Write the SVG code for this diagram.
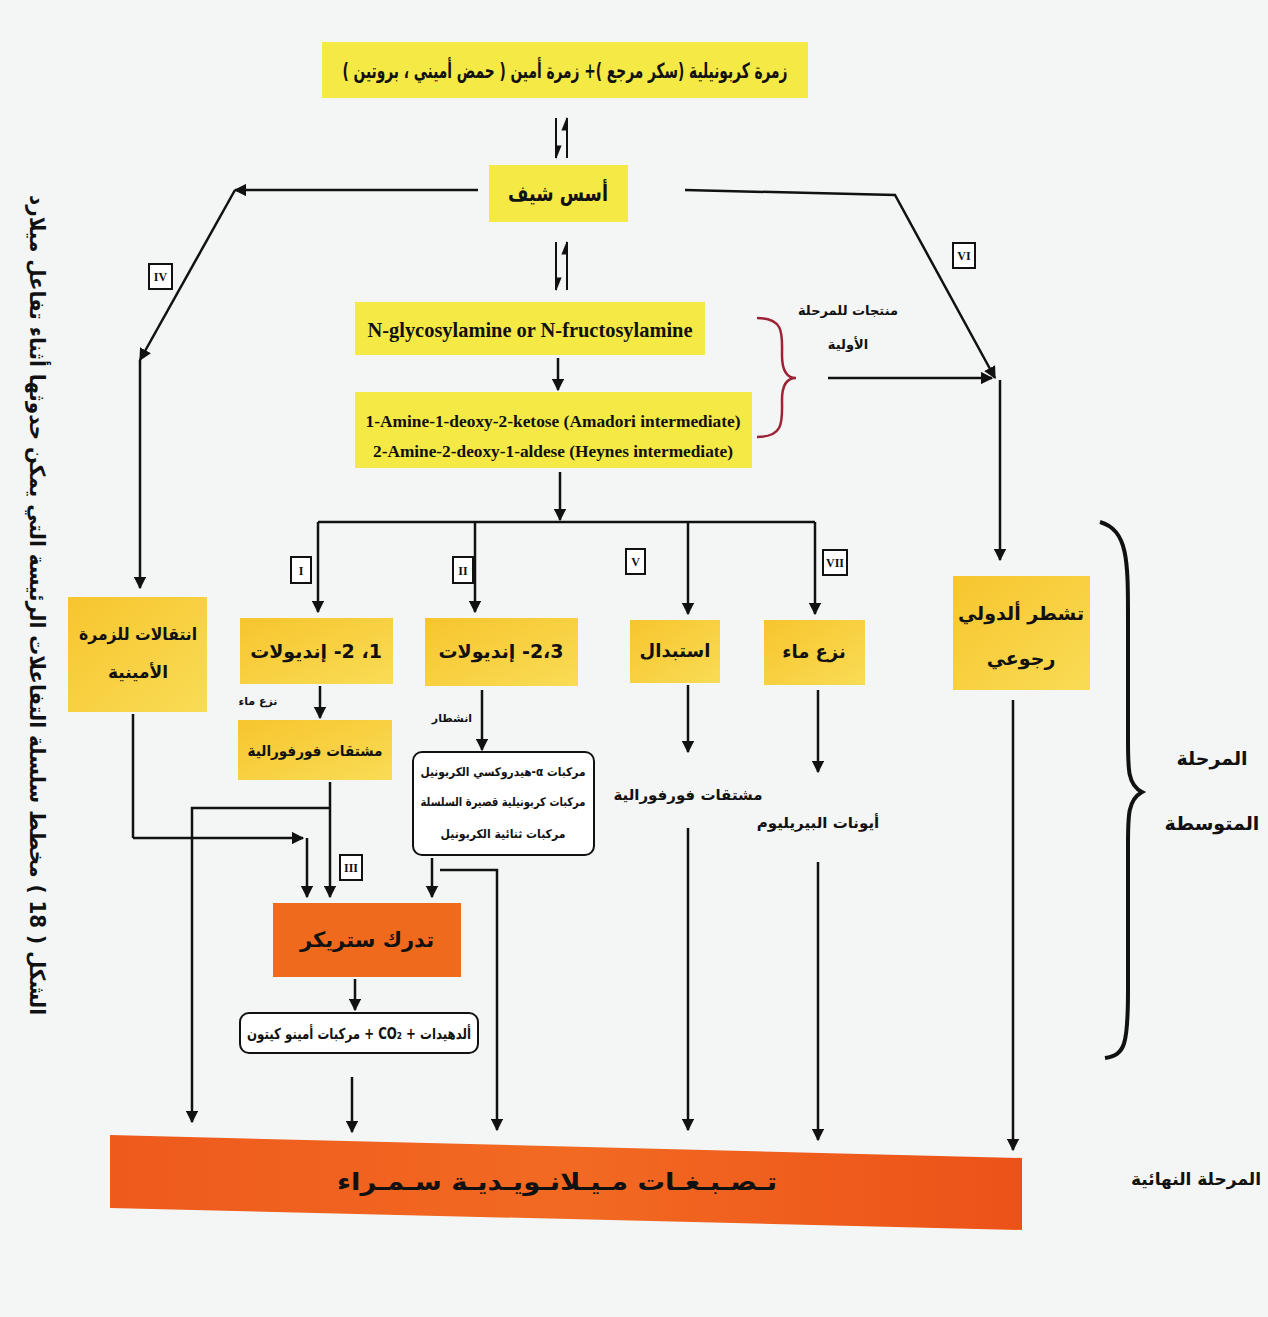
<svg xmlns="http://www.w3.org/2000/svg" width="1268" height="1317" viewBox="0 0 1268 1317">
<defs>
<style>
.ar{font-family:"DejaVu Sans",sans-serif;font-weight:bold;fill:#111;text-anchor:middle;direction:rtl}
.en{font-family:"Liberation Serif",serif;font-weight:bold;fill:#111;text-anchor:middle}
.ln{fill:none;stroke:#111;stroke-width:2.5}
.eq{fill:none;stroke:#111;stroke-width:2}
.yb{fill:#f5e945}
.ob{fill:url(#gy)}
.rn{fill:#fff;stroke:#111;stroke-width:2}
.rt{font-family:"Liberation Serif",serif;font-weight:bold;font-size:12px;fill:#111;text-anchor:middle}
.rb{fill:#fff;stroke:#111;stroke-width:2}
</style>
<linearGradient id="gy" x1="0" y1="0" x2="1" y2="1">
<stop offset="0" stop-color="#f7c52e"/><stop offset="1" stop-color="#f9dc55"/>
</linearGradient>
<linearGradient id="go" x1="0" y1="0" x2="1" y2="0">
<stop offset="0" stop-color="#ee5a1c"/><stop offset="0.5" stop-color="#f26a22"/><stop offset="1" stop-color="#ec5218"/>
</linearGradient>
<marker id="ah" viewBox="0 0 10 10" refX="9" refY="5" markerWidth="5" markerHeight="5" orient="auto" markerUnits="strokeWidth">
<path d="M0,0 L10,5 L0,10 z" fill="#111"/>
</marker>
<marker id="hh" viewBox="0 0 10 10" refX="9" refY="5" markerWidth="7" markerHeight="7" orient="auto" markerUnits="strokeWidth">
<path d="M0,1 L10,5 L0,5 z" fill="#111"/>
</marker>
</defs>
<rect width="1268" height="1317" fill="#f4f6f6"/>

<text class="ar" font-size="21" transform="translate(30,605) rotate(90)" textLength="820" lengthAdjust="spacingAndGlyphs">الشكل ( 18 ) مخطط سلسلة التفاعلات الرئيسة التي يمكن حدوثها أثناء تفاعل ميلارد</text>

<g id="top">
<rect class="yb" x="322" y="42" width="486" height="56"/>
<text class="ar" x="565" y="78" font-size="21" textLength="445" lengthAdjust="spacingAndGlyphs">زمرة كربونيلية (سكر مرجع )+ زمرة أمين ( حمض أميني ، بروتين )</text>
</g>
<g id="schiff">
<rect class="yb" x="489" y="165" width="139" height="57"/>
<text class="ar" x="558" y="201" font-size="22" textLength="100" lengthAdjust="spacingAndGlyphs">أسس شيف</text>
</g>
<g id="nglyco">
<rect class="yb" x="355" y="302" width="350" height="53"/>
<text class="en" x="530" y="337" font-size="21" textLength="325" lengthAdjust="spacingAndGlyphs">N-glycosylamine or N-fructosylamine</text>
</g>
<g id="amadori">
<rect class="yb" x="355" y="392" width="397" height="76"/>
<text class="en" x="553" y="427" font-size="17" textLength="375" lengthAdjust="spacingAndGlyphs">1-Amine-1-deoxy-2-ketose (Amadori intermediate)</text>
<text class="en" x="553" y="457" font-size="17" textLength="360" lengthAdjust="spacingAndGlyphs">2-Amine-2-deoxy-1-aldese (Heynes intermediate)</text>
</g>
<g id="early-label">
<path d="M757,318 C785,318 782,335 782,355 C782,370 786,378 796,378 C786,378 782,386 782,400 C782,420 785,437 757,437" fill="none" stroke="#9b2335" stroke-width="2.5"/>
<text class="ar" x="848" y="315" font-size="13">منتجات للمرحلة</text>
<text class="ar" x="848" y="349" font-size="13">الأولية</text>
</g>
<g id="n-iv">
<rect class="ob" x="68" y="597" width="139" height="115"/>
<text class="ar" x="138" y="640" font-size="17" textLength="118" lengthAdjust="spacingAndGlyphs">انتقالات للزمرة</text>
<text class="ar" x="138" y="678" font-size="17">الأمينية</text>
</g>
<g id="n-i">
<rect class="ob" x="240" y="618" width="153" height="66"/>
<text class="ar" x="316" y="658" font-size="19">1، 2- إنديولات</text>
</g>
<g id="n-ii">
<rect class="ob" x="425" y="618" width="153" height="68"/>
<text class="ar" x="501" y="658" font-size="19">2،3- إنديولات</text>
</g>
<g id="n-v">
<rect class="ob" x="630" y="620" width="90" height="63"/>
<text class="ar" x="675" y="657" font-size="18">استبدال</text>
</g>
<g id="n-vii">
<rect class="ob" x="764" y="620" width="101" height="65"/>
<text class="ar" x="814" y="658" font-size="18">نزع ماء</text>
</g>
<g id="n-vi">
<rect class="ob" x="953" y="576" width="137" height="114"/>
<text class="ar" x="1021" y="620" font-size="19">تشطر ألدولي</text>
<text class="ar" x="1021" y="665" font-size="19">رجوعي</text>
</g>
<g id="furfural1">
<rect class="ob" x="238" y="720" width="154" height="60"/>
<text class="ar" x="315" y="756" font-size="15" textLength="135" lengthAdjust="spacingAndGlyphs">مشتقات فورفورالية</text>
</g>
<g id="carbonyls">
<rect class="rb" x="413" y="752" width="181" height="103" rx="9"/>
<text class="ar" x="503" y="776" font-size="12" textLength="165" lengthAdjust="spacingAndGlyphs">مركبات α-هيدروكسي الكربونيل</text>
<text class="ar" x="503" y="806" font-size="12" textLength="165" lengthAdjust="spacingAndGlyphs">مركبات كربونيلية قصيرة السلسلة</text>
<text class="ar" x="503" y="838" font-size="12" textLength="125" lengthAdjust="spacingAndGlyphs">مركبات ثنائية الكربونيل</text>
</g>
<g id="furfural2"><text class="ar" x="688" y="800" font-size="15">مشتقات فورفورالية</text></g>
<g id="pyrylium"><text class="ar" x="818" y="828" font-size="15">أيونات البيريليوم</text></g>
<g id="strecker">
<rect x="273" y="903" width="188" height="74" fill="#f06a1e"/>
<text class="ar" x="367" y="947" font-size="21">تدرك ستريكر</text>
</g>
<g id="aldehydes">
<rect class="rb" x="240" y="1013" width="238" height="40" rx="9"/>
<text class="ar" x="359" y="1039" font-size="15" textLength="224" lengthAdjust="spacingAndGlyphs">ألدهيدات + CO₂ + مركبات أمينو كيتون</text>
</g>
<g id="final">
<polygon points="110,1135 1022,1158 1022,1230 110,1208" fill="url(#go)"/>
<text class="ar" x="557" y="1190" font-size="24" textLength="440" lengthAdjust="spacingAndGlyphs">تـصـبـغـات مـيـلانـويـديـة سـمـراء</text>
</g>
<g id="stage-labels">
<path d="M1100,522 C1128,530 1128,560 1128,620 L1128,740 C1128,770 1128,785 1142,792 C1128,800 1128,815 1128,845 L1128,990 C1128,1045 1125,1055 1105,1058" fill="none" stroke="#111" stroke-width="4"/>
<text class="ar" x="1212" y="765" font-size="19">المرحلة</text>
<text class="ar" x="1212" y="830" font-size="19">المتوسطة</text>
<text class="ar" x="1196" y="1185" font-size="17">المرحلة النهائية</text>
</g>
<g id="roman">
<rect class="rn" x="149" y="264" width="23" height="25"/><text class="rt" x="160.5" y="281">IV</text>
<rect class="rn" x="953" y="243" width="22" height="25"/><text class="rt" x="964" y="260">VI</text>
<rect class="rn" x="291" y="557" width="20" height="26"/><text class="rt" x="301" y="575">I</text>
<rect class="rn" x="453" y="557" width="20" height="26"/><text class="rt" x="463" y="575">II</text>
<rect class="rn" x="626" y="549" width="19" height="25"/><text class="rt" x="635.5" y="566">V</text>
<rect class="rn" x="823" y="550" width="24" height="25"/><text class="rt" x="835" y="567">VII</text>
<rect class="rn" x="340" y="855" width="22" height="25"/><text class="rt" x="351" y="872">III</text>
</g>
<g id="small-labels">
<text class="ar" x="258" y="705" font-size="11">نزع ماء</text>
<text class="ar" x="452" y="722" font-size="11">انشطار</text>
</g>
<g id="connectors">
<line class="eq" x1="556" y1="118" x2="556" y2="158" marker-end="url(#hh)"/>
<line class="eq" x1="567" y1="158" x2="567" y2="118" marker-end="url(#hh)"/>
<line class="eq" x1="556" y1="242" x2="556" y2="290" marker-end="url(#hh)"/>
<line class="eq" x1="567" y1="290" x2="567" y2="242" marker-end="url(#hh)"/>
<line class="ln" x1="558" y1="358" x2="558" y2="390" marker-end="url(#ah)"/>
<line class="ln" x1="478" y1="190" x2="235" y2="190" marker-end="url(#ah)"/>
<line class="ln" x1="235" y1="190" x2="140" y2="360" marker-end="url(#ah)"/>
<line class="ln" x1="140" y1="360" x2="140" y2="588" marker-end="url(#ah)"/>
<polyline class="ln" points="685,190 895,195 995,378" marker-end="url(#ah)"/>
<line class="ln" x1="828" y1="378" x2="992" y2="378" marker-end="url(#ah)"/>
<line class="ln" x1="1000" y1="380" x2="1000" y2="560" marker-end="url(#ah)"/>
<line class="ln" x1="560" y1="472" x2="560" y2="520" marker-end="url(#ah)"/>
<line class="ln" x1="318" y1="522" x2="815" y2="522"/>
<line class="ln" x1="318" y1="522" x2="318" y2="612" marker-end="url(#ah)"/>
<line class="ln" x1="475" y1="522" x2="475" y2="612" marker-end="url(#ah)"/>
<line class="ln" x1="688" y1="522" x2="688" y2="614" marker-end="url(#ah)"/>
<line class="ln" x1="815" y1="522" x2="815" y2="614" marker-end="url(#ah)"/>
<line class="ln" x1="320" y1="686" x2="320" y2="718" marker-end="url(#ah)"/>
<line class="ln" x1="482" y1="690" x2="482" y2="750" marker-end="url(#ah)"/>
<line class="ln" x1="688" y1="685" x2="688" y2="752" marker-end="url(#ah)"/>
<line class="ln" x1="818" y1="690" x2="818" y2="772" marker-end="url(#ah)"/>
<line class="ln" x1="133" y1="714" x2="133" y2="838"/>
<line class="ln" x1="133" y1="838" x2="303" y2="838" marker-end="url(#ah)"/>
<line class="ln" x1="307" y1="838" x2="307" y2="897" marker-end="url(#ah)"/>
<line class="ln" x1="330" y1="782" x2="330" y2="897" marker-end="url(#ah)"/>
<polyline class="ln" points="330,808 192,808 192,1122" marker-end="url(#ah)"/>
<line class="ln" x1="432" y1="858" x2="432" y2="897" marker-end="url(#ah)"/>
<polyline class="ln" points="440,870 497,870 497,1130" marker-end="url(#ah)"/>
<line class="ln" x1="355" y1="979" x2="355" y2="1010" marker-end="url(#ah)"/>
<line class="ln" x1="352" y1="1077" x2="352" y2="1132" marker-end="url(#ah)"/>
<line class="ln" x1="688" y1="828" x2="688" y2="1130" marker-end="url(#ah)"/>
<line class="ln" x1="818" y1="862" x2="818" y2="1140" marker-end="url(#ah)"/>
<line class="ln" x1="1013" y1="700" x2="1013" y2="1150" marker-end="url(#ah)"/>
</g>
</svg>
